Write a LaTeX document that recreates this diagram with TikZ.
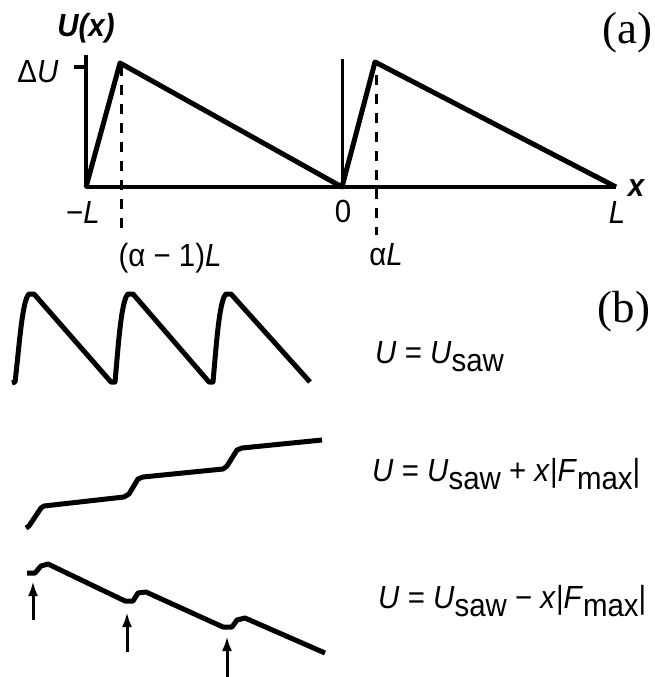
\documentclass[tikz,border=0pt]{standalone}
\usepackage{graphicx}
\usepackage{fontspec}
\setmainfont{Liberation Sans}
\newfontfamily\panelfont{Liberation Serif}
\usetikzlibrary{arrows.meta}
\newcommand{\lo}[1]{\raisebox{-8pt}{#1}}
\newcommand{\cond}[1]{\scalebox{0.92}[1]{#1}}

\begin{document}
\begin{tikzpicture}[x=1pt,y=-1pt,line join=round,>={Latex[length=15pt,width=10pt]},
  lbl/.style={inner sep=0pt,font=\fontsize{32}{36}\selectfont},
  panel/.style={inner sep=0pt,font=\panelfont\fontsize{45}{48}\selectfont},
  saw/.style={line width=5pt},
  axis/.style={line width=3.5pt},
  guide/.style={line width=3pt,dash pattern=on 10pt off 9pt},
  up/.style={->,line width=3pt}]
  \useasboundingbox (0,0) rectangle (655,677);
  % (a) sawtooth potential
  \coordinate (O) at (342,187);
  \coordinate (mL) at (86,187);
  \coordinate (pL) at (616,187);
  \coordinate (top1) at (120,63);
  \coordinate (top2) at (375,62);
  \draw[axis] (86,55) -- (mL) -- (pL);
  \draw[axis] (74,67) -- (86,67);
  \draw[line width=3pt] (342,59) -- (O);
  \draw[guide] (121,66) -- (121,235);
  \draw[guide] (376,75) -- (376,235);
  \draw[saw] (mL) -- (top1) -- (O) -- (top2) -- (pL);
  \node[lbl,font=\bfseries\itshape\fontsize{32}{36}\selectfont] (Ux) at (86,28) {\cond{U(x)}};
  \node[lbl] (dU) at (38,72) {\cond{Δ\textit{U}}};
  \node[lbl,font=\bfseries\itshape\fontsize{32}{36}\selectfont] (xlab) at (636,188) {\cond{x}};
  \node[lbl] (mLlab) at (83,212) {\cond{−\textit{L}}};
  \node[lbl] (zero) at (343,211) {\cond{0}};
  \node[lbl] (pLlab) at (617,212) {\cond{\textit{L}}};
  \node[lbl] (aL1) at (170,258) {\cond{(α − 1)\textit{L}}};
  \node[lbl] (aL2) at (386,255) {\cond{α\textit{L}}};
  \node[panel] (pa) at (627,33) {(a)};
  % (b) tilted potentials
  \node[panel] (pb) at (624,312) {(b)};
  \draw[saw] (12,383) -- (15,382) .. controls (19,350) and (22,300) .. (29,294) -- (34,294)
    -- (111,382) -- (115,382) .. controls (118,350) and (121,300) .. (128,294) -- (133,294)
    -- (209,382) -- (213,382) .. controls (216,350) and (219,300) .. (226,294) -- (231,294)
    -- (310,382);
  \draw[saw] (26,528) -- (29,526) -- (41,508) -- (44,506) -- (124,497) -- (129,494)
    -- (138,479) -- (143,477) -- (223,469) -- (227,466) -- (237,450) -- (242,448) -- (322,440);
  \draw[saw] (27,573) -- (35,573) -- (41,566) -- (48,564) -- (125,601) -- (133,601)
    -- (138,593) -- (146,592) -- (223,627) -- (232,627) -- (237,620) -- (245,618) -- (325,653);
  \coordinate (dip1) at (33,581);
  \coordinate (dip2) at (127,612);
  \coordinate (dip3) at (227,636);
  \draw[up] (33,620) -- (dip1);
  \draw[up] (127,652) -- (dip2);
  \draw[up] (227,677) -- (dip3);
  \node[lbl,anchor=base west] (eq1) at (375,363) {\cond{\textit{U} = \textit{U}\lo{saw}}};
  \node[lbl,anchor=base west] (eq2) at (372,481) {\cond{\textit{U} = \textit{U}\lo{saw} + \textit{x}|\textit{F}\lo{max}|}};
  \node[lbl,anchor=base west] (eq3) at (378,608) {\cond{\textit{U} = \textit{U}\lo{saw} − \textit{x}|\textit{F}\lo{max}|}};
\end{tikzpicture}
\end{document}
